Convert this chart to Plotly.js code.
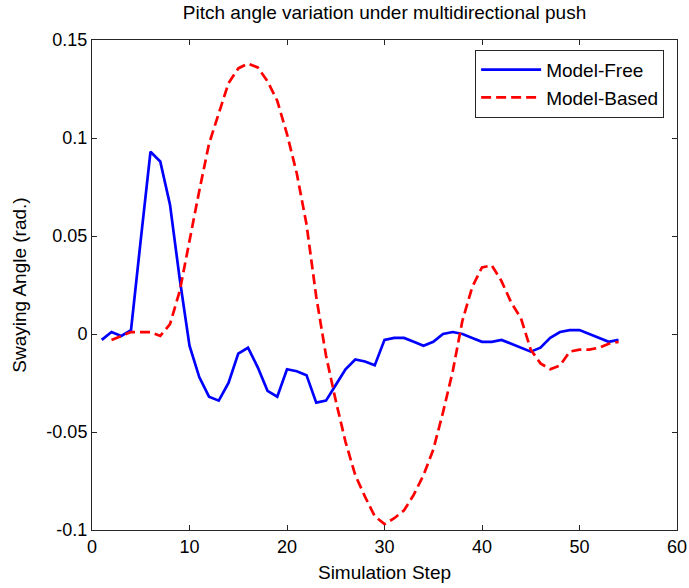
<!DOCTYPE html>
<html>
<head>
<meta charset="utf-8">
<script src="https://cdn.plot.ly/plotly-3.0.1.min.js"></script>
<style>html,body{margin:0;padding:0;background:#fff;}#chart{width:689px;height:588px;}</style>
</head>
<body>
<div id="chart"></div>
<script>
const freeSteps = [1,2,3,4,5,6,7,8,9,10,11,12,13,14,15,16,17,18,19,20,21,22,23,24,25,26,27,28,29,30,31,32,33,34,35,36,37,38,39,40,41,42,43,44,45,46,47,48,49,50,51,52,53,54];
const modelFree = [-0.003,0.001,-0.001,0.002,0.048,0.093,0.088,0.066,0.028,-0.006,-0.022,-0.032,-0.034,-0.025,-0.010,-0.007,-0.017,-0.029,-0.032,-0.018,-0.019,-0.021,-0.035,-0.034,-0.026,-0.018,-0.013,-0.014,-0.016,-0.003,-0.002,-0.002,-0.004,-0.006,-0.004,0.000,0.001,0.000,-0.002,-0.004,-0.004,-0.003,-0.005,-0.007,-0.009,-0.007,-0.002,0.001,0.002,0.002,0.000,-0.002,-0.004,-0.003];
const basedSteps = [2,3,4,5,6,7,8,9,10,11,12,13,14,15,16,17,18,19,20,21,22,23,24,25,26,27,28,29,30,31,32,33,34,35,36,37,38,39,40,41,42,43,44,45,46,47,48,49,50,51,52,53,54];
const modelBased = [-0.003,-0.001,0.001,0.001,0.001,-0.001,0.005,0.022,0.048,0.073,0.097,0.113,0.128,0.1355,0.138,0.136,0.129,0.119,0.102,0.082,0.056,0.019,-0.011,-0.034,-0.055,-0.072,-0.083,-0.093,-0.097,-0.094,-0.090,-0.082,-0.072,-0.059,-0.040,-0.019,0.007,0.024,0.034,0.035,0.027,0.016,0.008,-0.008,-0.015,-0.018,-0.016,-0.009,-0.008,-0.008,-0.007,-0.005,-0.004];
const xTicks = [0,10,20,30,40,50,60];
const yTicks = [-0.1,-0.05,0,0.05,0.1,0.15];
const yTickText = ['-0.1','-0.05','0','0.05','0.1','0.15'];

const axisCommon = {
  showgrid:false, zeroline:false, showline:true, mirror:'ticks', linecolor:'#262626', linewidth:1,
  ticks:'inside', ticklen:5, tickcolor:'#262626', tickwidth:1,
  tickfont:{family:'Liberation Sans, Arial, sans-serif', size:18, color:'#000'}
};

const data = [
  {x:freeSteps, y:modelFree, type:'scatter', mode:'lines', name:'Model-Free',
   line:{color:'#0000ff', width:2.7}},
  {x:basedSteps, y:modelBased, type:'scatter', mode:'lines', name:'Model-Based',
   line:{color:'#ff0000', width:2.7, dash:'10px,5px'}}
];

const layout = {
  width:689, height:588,
  margin:{l:92, r:12, t:40, b:58},
  paper_bgcolor:'#fff', plot_bgcolor:'#fff',
  font:{family:'Liberation Sans, Arial, sans-serif', color:'#000'},
  title:{text:'Pitch angle variation under multidirectional push', font:{size:19, color:'#000'},
    xref:'paper', x:0.5, xanchor:'center', yref:'container', y:0.99, yanchor:'top'},
  xaxis:Object.assign({}, axisCommon, {range:[0,60], tickvals:xTicks, ticktext:xTicks.map(String),
    title:{text:'Simulation Step', font:{size:19}, standoff:10}}),
  yaxis:Object.assign({}, axisCommon, {range:[-0.1,0.15], tickvals:yTicks, ticktext:yTickText,
    title:{text:'Swaying Angle (rad.)', font:{size:19}, standoff:14}}),
  legend:{x:0.978, xanchor:'right', y:0.98, yanchor:'top', bgcolor:'#fff', bordercolor:'#262626', borderwidth:1,
    font:{size:19, color:'#000'}, tracegroupgap:0, itemwidth:60},
  showlegend:true
};

Plotly.newPlot('chart', data, layout, {displayModeBar:false, staticPlot:true});
</script>
</body>
</html>
